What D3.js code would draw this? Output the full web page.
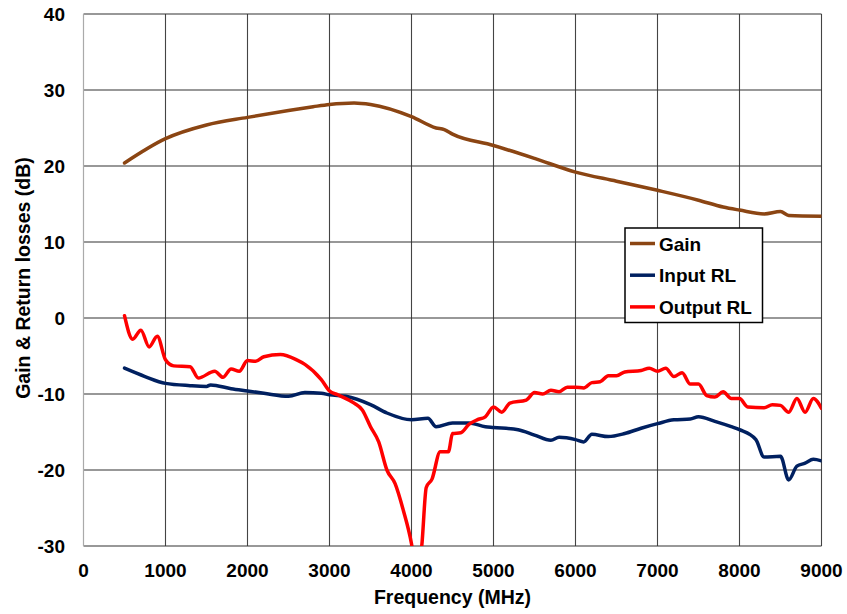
<!DOCTYPE html>
<html>
<head>
<meta charset="utf-8">
<script src="https://cdn.jsdelivr.net/npm/d3@7"></script>
<style>
  body { margin: 0; background: #fff; }
  svg { font-family: "Liberation Sans", Arial, sans-serif; font-weight: bold; }
</style>
</head>
<body>
<div class="chart"></div>
<script>
// frequencies in MHz
const gainFreq = [500, 1000, 1500, 2000, 2500, 2800, 3000, 3300, 3500, 4000, 4300, 4400, 4500, 5000, 5500, 6000, 6500, 7000, 7500, 7800, 8000, 8300, 8500, 8600, 9000];
const gain     = [20.4, 23.6, 25.4, 26.4, 27.3, 27.8, 28.1, 28.3, 28.1, 26.5, 25.0, 24.8, 24.2, 22.7, 21.0, 19.2, 18.0, 16.8, 15.5, 14.6, 14.2, 13.7, 14.0, 13.5, 13.4];

const inFreq = [500, 750, 1000, 1300, 1500, 1550, 1800, 2000, 2200, 2500, 2700, 2900, 3000, 3200, 3500, 3700, 4000, 4200, 4300, 4500, 4700, 4900, 5000, 5300, 5500, 5700, 5800, 6000, 6100, 6200, 6400, 6600, 6800, 7000, 7200, 7400, 7500, 7700, 7900, 8000, 8200, 8300, 8500, 8600, 8700, 8800, 8900, 9000];
const inputRL = [-6.6, -7.7, -8.6, -8.9, -9.0, -8.8, -9.3, -9.6, -9.9, -10.3, -9.8, -9.9, -10.1, -10.3, -11.4, -12.5, -13.4, -13.2, -14.3, -13.8, -13.8, -14.3, -14.4, -14.7, -15.4, -16.1, -15.7, -16.0, -16.3, -15.3, -15.6, -15.2, -14.5, -13.9, -13.4, -13.3, -13.0, -13.6, -14.3, -14.7, -16.0, -18.3, -18.2, -21.3, -19.5, -19.1, -18.6, -18.8];

const outFreq = [500, 600, 700, 800, 900, 1000, 1100, 1300, 1400, 1600, 1700, 1800, 1900, 2000, 2100, 2200, 2400, 2600, 2700, 2900, 3000, 3100, 3300, 3400, 3500, 3600, 3700, 3800, 3900, 4000, 4050, 4120, 4180, 4250, 4350, 4450, 4500, 4600, 4700, 4800, 4900, 5000, 5100, 5200, 5400, 5500, 5600, 5700, 5800, 5900, 6000, 6100, 6200, 6300, 6400, 6500, 6600, 6800, 6900, 7000, 7100, 7200, 7300, 7400, 7500, 7600, 7700, 7800, 7900, 8000, 8100, 8300, 8400, 8500, 8600, 8700, 8800, 8900, 9000];
const outputRL = [0.3, -2.8, -1.6, -3.8, -2.4, -5.5, -6.3, -6.4, -7.9, -7.0, -7.8, -6.7, -7.0, -5.6, -5.7, -5.1, -4.8, -5.5, -6.1, -8.1, -9.6, -10.1, -11.2, -12.1, -14.3, -16.3, -20.0, -21.8, -25.3, -29.7, -33.0, -30.5, -22.3, -21.2, -17.6, -17.6, -15.2, -15.1, -14.0, -13.4, -13.0, -11.7, -12.4, -11.2, -10.8, -9.8, -10.0, -9.5, -9.7, -9.1, -9.1, -9.2, -8.5, -8.4, -7.6, -7.6, -7.1, -6.9, -6.6, -7.0, -6.6, -7.7, -7.2, -8.7, -8.7, -10.2, -10.4, -9.7, -10.6, -10.6, -11.7, -11.8, -11.4, -11.5, -12.4, -10.6, -12.4, -10.6, -11.9];

const xTicks = [0, 1000, 2000, 3000, 4000, 5000, 6000, 7000, 8000, 9000];
const yTicks = [-30, -20, -10, 0, 10, 20, 30, 40];

const seriesNames = ['Gain', 'Input RL', 'Output RL'];
const seriesColors = ['#8B4513', '#002060', '#FF0000'];

const width = 847, height = 614;
const plotLeft = 83.5, plotRight = 821.5, plotTop = 14, plotBottom = 546;

const svg = d3.select('.chart').append('svg')
    .attr('width', width)
    .attr('height', height);

const x = d3.scaleLinear().domain([0, 9000]).range([plotLeft, plotRight]);
const y = d3.scaleLinear().domain([-30, 40]).range([plotBottom, plotTop]);

// grid lines
svg.append('g')
    .selectAll('line')
    .data(xTicks.slice(1))
    .enter()
    .append('line')
    .attr('x1', d => x(d)).attr('x2', d => x(d))
    .attr('y1', plotTop).attr('y2', plotBottom)
    .attr('stroke', '#444')
    .attr('stroke-width', 1.1);

svg.append('g')
    .selectAll('line')
    .data(yTicks)
    .enter()
    .append('line')
    .attr('x1', plotLeft).attr('x2', plotRight)
    .attr('y1', d => y(d)).attr('y2', d => y(d))
    .attr('stroke', '#333')
    .attr('stroke-width', 1.1);

// left axis line is lighter
svg.append('line')
    .attr('x1', plotLeft).attr('x2', plotLeft)
    .attr('y1', plotTop).attr('y2', plotBottom)
    .attr('stroke', '#aaa')
    .attr('stroke-width', 1.2);

// tick labels
svg.append('g')
    .selectAll('text')
    .data(yTicks)
    .enter()
    .append('text')
    .attr('x', 65)
    .attr('y', d => y(d) + 6.8)
    .attr('text-anchor', 'end')
    .attr('font-size', 19)
    .text(d => d);

svg.append('g')
    .selectAll('text')
    .data(xTicks)
    .enter()
    .append('text')
    .attr('x', d => x(d))
    .attr('y', 577)
    .attr('text-anchor', 'middle')
    .attr('font-size', 19)
    .text(d => d);

svg.append('text')
    .attr('x', (plotLeft + plotRight) / 2)
    .attr('y', 604)
    .attr('text-anchor', 'middle')
    .attr('font-size', 19.5)
    .text('Frequency (MHz)');

svg.append('text')
    .attr('transform', 'translate(30,278) rotate(-90)')
    .attr('text-anchor', 'middle')
    .attr('font-size', 19.5)
    .text('Gain & Return losses (dB)');

// curves
svg.append('clipPath').attr('id', 'plot-clip')
    .append('rect')
    .attr('x', plotLeft).attr('y', plotTop)
    .attr('width', plotRight - plotLeft).attr('height', plotBottom - plotTop);

const line = d3.line()
    .x(d => x(d[0]))
    .y(d => y(d[1]))
    .curve(d3.curveMonotoneX);

const series = [
    d3.zip(gainFreq, gain),
    d3.zip(inFreq, inputRL),
    d3.zip(outFreq, outputRL)
];

svg.append('g')
    .attr('clip-path', 'url(#plot-clip)')
    .selectAll('path')
    .data(series)
    .enter()
    .append('path')
    .attr('d', line)
    .attr('fill', 'none')
    .attr('stroke', (d, i) => seriesColors[i])
    .attr('stroke-width', 3.5)
    .attr('stroke-linejoin', 'round')
    .attr('stroke-linecap', 'round');

// legend
const lg = svg.append('g').attr('transform', 'translate(625,228)');
lg.append('rect')
    .attr('width', 137.5).attr('height', 94.5)
    .attr('fill', '#fff')
    .attr('stroke', '#000')
    .attr('stroke-width', 1.5);

const items = lg.selectAll('g.item')
    .data(seriesNames)
    .enter()
    .append('g')
    .attr('transform', (d, i) => `translate(0,${15.5 + i * 31.7})`);

items.append('line')
    .attr('x1', 5).attr('x2', 30)
    .attr('stroke', (d, i) => seriesColors[i])
    .attr('stroke-width', 3.5);

items.append('text')
    .attr('x', 34)
    .attr('y', 7)
    .attr('font-size', 19)
    .text(d => d);
</script>
</body>
</html>
